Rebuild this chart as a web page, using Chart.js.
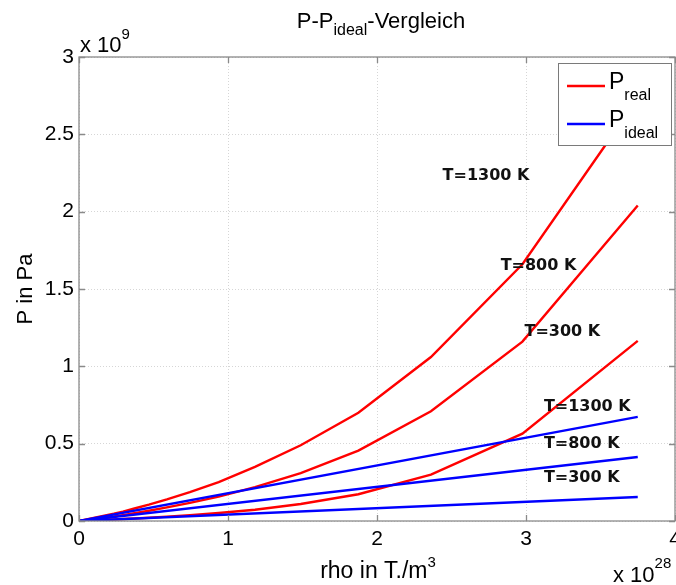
<!DOCTYPE html>
<html>
<head>
<meta charset="utf-8">
<script src="https://cdn.jsdelivr.net/npm/chart.js@4.4.1/dist/chart.umd.min.js"></script>
<style>
  html, body { margin: 0; padding: 0; background: #fff; }
  #wrap { width: 676px; height: 585px; position: relative; }
</style>
</head>
<body>
<div id="wrap"><canvas id="chart"></canvas></div>
<script>
// Dichte in 1e28 T./m^3, Druck in 1e9 Pa
const rhoValues = [0, 0.234, 0.295, 0.372, 0.469, 0.59, 0.744, 0.9375, 1.181, 1.488, 1.875, 2.362, 2.976, 3.75];
const pReal1300 = [0, 0.047, 0.061, 0.081, 0.106, 0.140, 0.187, 0.252, 0.350, 0.490, 0.700, 1.060, 1.660, 2.730];
const pReal800  = [0, 0.029, 0.038, 0.050, 0.066, 0.088, 0.117, 0.158, 0.219, 0.310, 0.455, 0.710, 1.160, 2.040];
const pReal300  = [0, 0.010, 0.013, 0.016, 0.021, 0.028, 0.038, 0.052, 0.073, 0.110, 0.173, 0.300, 0.565, 1.165];

// ideales Gas: Geraden vom Ursprung bis zur max. Dichte
const rhoIdeal = [0, 3.75];
const pIdeal1300 = [0, 0.673];
const pIdeal800  = [0, 0.414];
const pIdeal300  = [0, 0.155];

const xTicks = [0, 1, 2, 3, 4];
const yTicks = [0, 0.5, 1, 1.5, 2, 2.5, 3];

const tempLabels = ['T=1300 K', 'T=800 K', 'T=300 K'];

const toPoints = (xs, ys) => xs.map((x, i) => ({ x: x, y: ys[i] }));

const RED = '#ff0000';
const BLUE = '#0000ff';
const AXIS_GRAY = '#8a8a8a';
const FONT = '"Liberation Sans", Arial, sans-serif';

function line(data, color) {
    return {
        data: data,
        borderColor: color,
        backgroundColor: color,
        borderWidth: 2.4,
        pointRadius: 0,
        tension: 0,
        fill: false
    };
}

// Text mit Hoch-/Tiefstellung zeichnen, parts = [[text, size, dy], ...]
function drawParts(ctx, parts, x, y, align) {
    let total = 0;
    parts.forEach(p => {
        ctx.font = p[1] + 'px ' + FONT;
        total += ctx.measureText(p[0]).width;
    });
    let cx = align === 'center' ? x - total / 2 : x;
    ctx.textAlign = 'left';
    ctx.textBaseline = 'alphabetic';
    parts.forEach(p => {
        ctx.font = p[1] + 'px ' + FONT;
        ctx.fillText(p[0], cx, y + p[2]);
        cx += ctx.measureText(p[0]).width;
    });
}

const decorations = {
    id: 'decorations',
    afterDatasetsDraw(chart) {
        const ctx = chart.ctx;
        const a = chart.chartArea;
        const xs = chart.scales.x;
        const ys = chart.scales.y;
        ctx.save();

        // Rahmen mit Innen-Ticks
        ctx.strokeStyle = AXIS_GRAY;
        ctx.lineWidth = 1.3;
        ctx.strokeRect(a.left, a.top, a.right - a.left, a.bottom - a.top);
        ctx.beginPath();
        xTicks.forEach(v => {
            const px = Math.round(xs.getPixelForValue(v)) + 0.5;
            ctx.moveTo(px, a.bottom); ctx.lineTo(px, a.bottom - 6);
            ctx.moveTo(px, a.top); ctx.lineTo(px, a.top + 6);
        });
        yTicks.forEach(v => {
            const py = Math.round(ys.getPixelForValue(v)) + 0.5;
            ctx.moveTo(a.left, py); ctx.lineTo(a.left + 6, py);
            ctx.moveTo(a.right, py); ctx.lineTo(a.right - 6, py);
        });
        ctx.stroke();

        // Temperaturbeschriftungen
        ctx.fillStyle = '#111';
        ctx.font = 'bold 16px "DejaVu Sans", sans-serif';
        ctx.textAlign = 'left';
        ctx.textBaseline = 'middle';
        const spots = [[2.44, 2.23], [2.83, 1.65], [2.99, 1.22], [3.12, 0.74], [3.12, 0.50], [3.12, 0.28]];
        spots.forEach((s, i) => {
            ctx.fillText(tempLabels[i % 3], xs.getPixelForValue(s[0]), ys.getPixelForValue(s[1]));
        });

        // Legende
        const lx = 558, ly = 63, lw = 113, lh = 82;
        ctx.fillStyle = '#fff';
        ctx.fillRect(lx, ly, lw, lh);
        ctx.strokeStyle = '#7a7a7a';
        ctx.lineWidth = 1;
        ctx.strokeRect(lx + 0.5, ly + 0.5, lw, lh);
        [[RED, 'real', 86], [BLUE, 'ideal', 124]].forEach(e => {
            ctx.strokeStyle = e[0];
            ctx.lineWidth = 2.4;
            ctx.beginPath();
            ctx.moveTo(567, e[2]); ctx.lineTo(605, e[2]);
            ctx.stroke();
            ctx.fillStyle = '#000';
            drawParts(ctx, [['P', 23, 0], [e[1], 16, 11]], 609, e[2] + 3, 'left');
        });

        // Titel und Achsenbeschriftungen
        ctx.fillStyle = '#000';
        drawParts(ctx, [['P-P', 22, 0], ['ideal', 16, 7], ['-Vergleich', 22, 0]], 381, 28, 'center');
        drawParts(ctx, [['x 10', 22, 0], ['9', 15, -13]], 80, 52, 'left');
        drawParts(ctx, [['rho in T./m', 23, 0], ['3', 15, -11]], 378, 578, 'center');
        drawParts(ctx, [['x 10', 22, 0], ['28', 15, -14]], 613, 582, 'left');

        ctx.translate(32, 289);
        ctx.rotate(-Math.PI / 2);
        drawParts(ctx, [['P in Pa', 22, 0]], 0, 0, 'center');
        ctx.restore();
    }
};

new Chart(document.getElementById('chart'), {
    type: 'line',
    data: {
        datasets: [
            line(toPoints(rhoIdeal, pIdeal1300), BLUE),
            line(toPoints(rhoIdeal, pIdeal800), BLUE),
            line(toPoints(rhoIdeal, pIdeal300), BLUE),
            line(toPoints(rhoValues, pReal1300), RED),
            line(toPoints(rhoValues, pReal800), RED),
            line(toPoints(rhoValues, pReal300), RED)
        ]
    },
    options: {
        responsive: true,
        maintainAspectRatio: false,
        animation: false,
        layout: { padding: { top: 57, right: 1, left: 0, bottom: 0 } },
        plugins: {
            legend: { display: false },
            title: { display: false },
            tooltip: { enabled: false }
        },
        scales: {
            x: {
                type: 'linear',
                min: 0,
                max: 4,
                afterBuildTicks: s => { s.ticks = xTicks.map(v => ({ value: v })); },
                afterFit: s => { s.height = 64; s.paddingLeft = 0; s.paddingRight = 0; },
                grid: { color: '#d6d6d6', drawTicks: false },
                border: { display: false, dash: [1, 2] },
                ticks: {
                    color: '#000',
                    padding: 6,
                    maxRotation: 0,
                    font: { family: FONT, size: 21 },
                    callback: v => String(v)
                }
            },
            y: {
                min: 0,
                max: 3,
                afterBuildTicks: s => { s.ticks = yTicks.map(v => ({ value: v })); },
                afterFit: s => { s.width = 79; s.paddingTop = 0; s.paddingBottom = 0; },
                grid: { color: '#d6d6d6', drawTicks: false },
                border: { display: false, dash: [1, 2] },
                ticks: {
                    color: '#000',
                    padding: 5,
                    font: { family: FONT, size: 21 },
                    callback: v => String(v)
                }
            }
        }
    },
    plugins: [decorations]
});
</script>
</body>
</html>
